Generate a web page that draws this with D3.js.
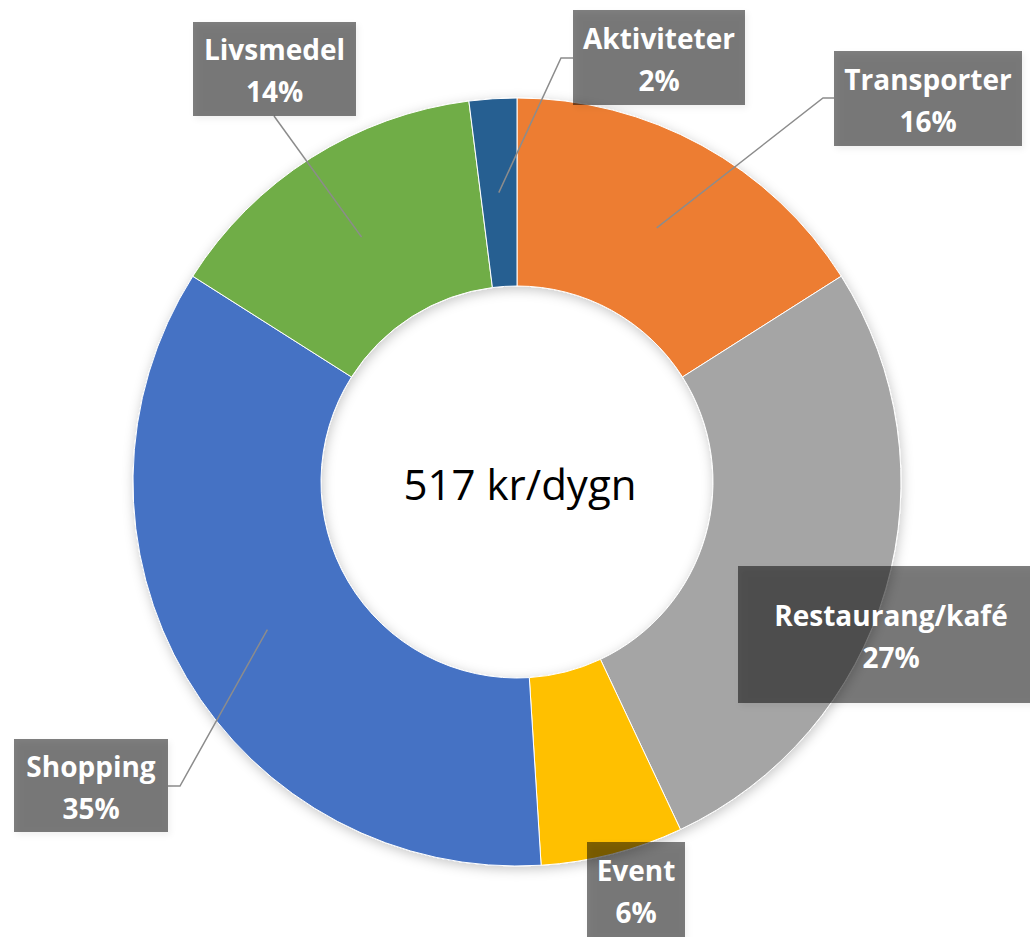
<!DOCTYPE html>
<html>
<head>
<meta charset="utf-8">
<script src="https://cdn.jsdelivr.net/npm/d3@7"></script>
<style>
  body { margin: 0; background: #fff; }
  svg { display: block; }
</style>
</head>
<body>
<div id="chart"></div>
<script>
const categories = ["Transporter", "Restaurang/kafé", "Event", "Shopping", "Livsmedel", "Aktiviteter"];
const shares = [16, 27, 6, 35, 14, 2];
const sliceColors = ["#ED7D31", "#A5A5A5", "#FFC000", "#4472C4", "#70AD47", "#255E91"];
const centerLabel = "517 kr/dygn";

// label boxes placed by hand, like the original data labels
const labelLayout = [
  { box: [834, 51, 188, 95], bend: [823, 98], end: [834, 98] },
  { box: [738, 566, 306, 137] },
  { box: [587, 842, 98, 96] },
  { box: [14, 739, 154, 93], bend: [180, 786], end: [168, 786] },
  { box: [193, 22, 163, 94], bend: [274, 116], end: [274, 116] },
  { box: [573, 10, 172, 95], bend: [561, 58], end: [573, 58] }
];

const width = 1030;
const height = 937;
const cx = 517, cy = 482;
const outerR = 384, innerR = 196;

const svg = d3.select("#chart")
  .append("svg")
  .attr("width", width)
  .attr("height", height);

const defs = svg.append("defs");
defs.append("filter")
  .attr("id", "ringShadow")
  .attr("x", "-20%").attr("y", "-20%").attr("width", "140%").attr("height", "140%")
  .append("feDropShadow")
  .attr("dx", 1).attr("dy", 3).attr("stdDeviation", 6)
  .attr("flood-color", "#000").attr("flood-opacity", 0.22);
defs.append("filter")
  .attr("id", "boxShadow")
  .attr("x", "-20%").attr("y", "-20%").attr("width", "140%").attr("height", "140%")
  .append("feDropShadow")
  .attr("dx", 2).attr("dy", 3).attr("stdDeviation", 3)
  .attr("flood-color", "#000").attr("flood-opacity", 0.12);

const pie = d3.pie().sort(null).value(d => d);
const arcs = pie(shares);

const arc = d3.arc().innerRadius(innerR).outerRadius(outerR);

const g = svg.append("g").attr("transform", `translate(${cx},${cy})`);

g.append("g")
  .attr("filter", "url(#ringShadow)")
  .selectAll("path")
  .data(arcs)
  .enter().append("path")
  .attr("d", arc)
  .attr("fill", (d, i) => sliceColors[i])
  .attr("stroke", "#fff")
  .attr("stroke-width", 1);

g.append("text")
  .attr("x", 3)
  .attr("y", 18)
  .attr("text-anchor", "middle")
  .attr("font-family", "'Open Sans', sans-serif")
  .attr("font-size", 42)
  .attr("fill", "#000")
  .text(centerLabel);

// leader lines
arcs.forEach((d, i) => {
  const lay = labelLayout[i];
  if (!lay.bend) return;
  const c = arc.centroid(d);
  const pts = [[cx + c[0], cy + c[1]], lay.bend, lay.end];
  svg.append("path")
    .attr("d", d3.line()(pts))
    .attr("fill", "none")
    .attr("stroke", "#8c8c8c")
    .attr("stroke-width", 1.5);
});

// label boxes
const labels = svg.selectAll("g.label")
  .data(arcs)
  .enter().append("g")
  .attr("class", "label");

labels.append("rect")
  .attr("x", (d, i) => labelLayout[i].box[0])
  .attr("y", (d, i) => labelLayout[i].box[1])
  .attr("width", (d, i) => labelLayout[i].box[2])
  .attr("height", (d, i) => labelLayout[i].box[3])
  .attr("fill", "#000")
  .attr("fill-opacity", 0.5)
  .attr("filter", "url(#boxShadow)");

const labelText = labels.append("text")
  .attr("text-anchor", "middle")
  .attr("font-family", "'Open Sans', sans-serif")
  .attr("font-weight", "bold")
  .attr("font-size", 28)
  .attr("fill", "#fff");

labelText.append("tspan")
  .attr("x", (d, i) => labelLayout[i].box[0] + labelLayout[i].box[2] / 2)
  .attr("y", (d, i) => labelLayout[i].box[1] + labelLayout[i].box[3] / 2 - 9)
  .text((d, i) => categories[i]);

labelText.append("tspan")
  .attr("x", (d, i) => labelLayout[i].box[0] + labelLayout[i].box[2] / 2)
  .attr("y", (d, i) => labelLayout[i].box[1] + labelLayout[i].box[3] / 2 + 33)
  .text(d => d.data + "%");
</script>
</body>
</html>
